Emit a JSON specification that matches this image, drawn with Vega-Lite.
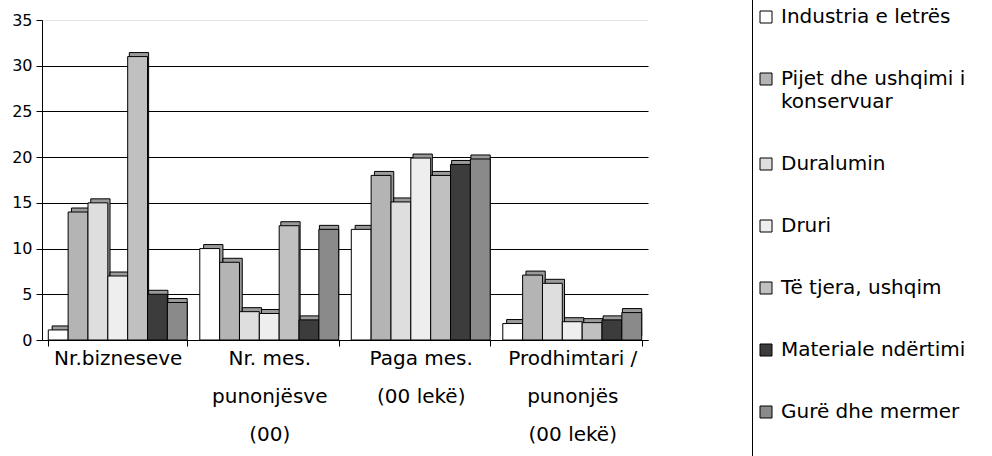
{
  "$schema": "https://vega.github.io/schema/vega-lite/v6.json",
  "width": 606,
  "height": 320,
  "autosize": {"type": "none"},
  "padding": {"left": 42, "top": 20, "right": 344, "bottom": 116},
  "background": "white",
  "config": {"view": {"stroke": null}},
  "resolve": {"scale": {"xOffset": "independent"}},
  "data": {
    "values": [
      {"group": "Nr.bizneseve", "cat": "Industria e letrës", "value": 1.1},
      {"group": "Nr.bizneseve", "cat": "Pijet dhe ushqimi i konservuar", "value": 14},
      {"group": "Nr.bizneseve", "cat": "Duralumin", "value": 15},
      {"group": "Nr.bizneseve", "cat": "Druri", "value": 7},
      {"group": "Nr.bizneseve", "cat": "Të tjera, ushqim", "value": 31},
      {"group": "Nr.bizneseve", "cat": "Materiale ndërtimi", "value": 5},
      {"group": "Nr.bizneseve", "cat": "Gurë dhe mermer", "value": 4.1},
      {"group": "Nr. mes. punonjësve (00)", "cat": "Industria e letrës", "value": 10},
      {"group": "Nr. mes. punonjësve (00)", "cat": "Pijet dhe ushqimi i konservuar", "value": 8.5},
      {"group": "Nr. mes. punonjësve (00)", "cat": "Duralumin", "value": 3.1},
      {"group": "Nr. mes. punonjësve (00)", "cat": "Druri", "value": 2.9},
      {"group": "Nr. mes. punonjësve (00)", "cat": "Të tjera, ushqim", "value": 12.5},
      {"group": "Nr. mes. punonjësve (00)", "cat": "Materiale ndërtimi", "value": 2.2},
      {"group": "Nr. mes. punonjësve (00)", "cat": "Gurë dhe mermer", "value": 12.1},
      {"group": "Paga mes. (00 lekë)", "cat": "Industria e letrës", "value": 12.1},
      {"group": "Paga mes. (00 lekë)", "cat": "Pijet dhe ushqimi i konservuar", "value": 18},
      {"group": "Paga mes. (00 lekë)", "cat": "Duralumin", "value": 15.1},
      {"group": "Paga mes. (00 lekë)", "cat": "Druri", "value": 19.9},
      {"group": "Paga mes. (00 lekë)", "cat": "Të tjera, ushqim", "value": 18},
      {"group": "Paga mes. (00 lekë)", "cat": "Materiale ndërtimi", "value": 19.2},
      {"group": "Paga mes. (00 lekë)", "cat": "Gurë dhe mermer", "value": 19.8},
      {"group": "Prodhimtari / punonjës (00 lekë)", "cat": "Industria e letrës", "value": 1.8},
      {"group": "Prodhimtari / punonjës (00 lekë)", "cat": "Pijet dhe ushqimi i konservuar", "value": 7.1},
      {"group": "Prodhimtari / punonjës (00 lekë)", "cat": "Duralumin", "value": 6.2},
      {"group": "Prodhimtari / punonjës (00 lekë)", "cat": "Druri", "value": 2},
      {"group": "Prodhimtari / punonjës (00 lekë)", "cat": "Të tjera, ushqim", "value": 1.9},
      {"group": "Prodhimtari / punonjës (00 lekë)", "cat": "Materiale ndërtimi", "value": 2.2},
      {"group": "Prodhimtari / punonjës (00 lekë)", "cat": "Gurë dhe mermer", "value": 3}
    ]
  },
  "encoding": {
    "x": {
      "field": "group",
      "type": "nominal",
      "sort": ["Nr.bizneseve", "Nr. mes. punonjësve (00)", "Paga mes. (00 lekë)", "Prodhimtari / punonjës (00 lekë)"],
      "scale": {"paddingInner": 0.083, "paddingOuter": 0.0415},
      "axis": {
        "title": null,
        "labelAngle": 0,
        "tickBand": "extent",
        "tickColor": "black",
        "tickSize": 6,
        "domainColor": "black",
        "labelFont": "DejaVu Sans",
        "labelFontSize": 20,
        "labelColor": "black",
        "labelLineHeight": 38,
        "labelBaseline": "top",
        "labelPadding": 2,
        "labelLimit": 200,
        "labelExpr": "datum.value === 'Nr. mes. punonjësve (00)' ? ['Nr. mes.', 'punonjësve', '(00)'] : datum.value === 'Paga mes. (00 lekë)' ? ['Paga mes.', '(00 lekë)'] : datum.value === 'Prodhimtari / punonjës (00 lekë)' ? ['Prodhimtari /', '\u00a0punonjës', '\u00a0\u00a0\u00a0\u00a0\u00a0\u00a0(00 lekë)'] : datum.value"
      }
    },
    "xOffset": {
      "field": "cat",
      "type": "nominal",
      "scale": {
        "domain": ["Industria e letrës", "Pijet dhe ushqimi i konservuar", "Duralumin", "Druri", "Të tjera, ushqim", "Materiale ndërtimi", "Gurë dhe mermer"],
        "paddingInner": 0,
        "paddingOuter": 0
      }
    },
    "y": {
      "field": "value",
      "type": "quantitative",
      "scale": {"domain": [0, 35], "nice": false},
      "axis": {
        "title": null,
        "values": [0, 5, 10, 15, 20, 25, 30, 35],
        "grid": true,
        "gridColor": {"condition": {"test": "datum.value === 35", "value": "#e4e4e4"}, "value": "black"},
        "gridWidth": 1,
        "domainColor": "black",
        "tickColor": "black",
        "tickSize": 6,
        "labelFont": "DejaVu Sans",
        "labelFontSize": 16,
        "labelColor": "black",
        "labelPadding": 4
      }
    }
  },
  "layer": [
    {
      "mark": {"type": "bar", "fill": "#9a9a9a", "stroke": "black", "strokeWidth": 1, "yOffset": -4, "y2Offset": -4},
      "encoding": {
        "xOffset": {
          "field": "cat",
          "type": "nominal",
          "scale": {
            "domain": ["Industria e letrës", "Pijet dhe ushqimi i konservuar", "Duralumin", "Druri", "Të tjera, ushqim", "Materiale ndërtimi", "Gurë dhe mermer"],
            "paddingInner": 0,
            "paddingOuter": 0.1,
            "align": 1
          }
        }
      }
    },
    {
      "mark": {"type": "bar", "stroke": "black", "strokeWidth": 1},
      "encoding": {
        "color": {
          "field": "cat",
          "type": "nominal",
          "scale": {
            "domain": ["Industria e letrës", "Pijet dhe ushqimi i konservuar", "Duralumin", "Druri", "Të tjera, ushqim", "Materiale ndërtimi", "Gurë dhe mermer", " "],
            "range": ["#ffffff", "#b4b4b4", "#dedede", "#eeeeee", "#c0c0c0", "#3c3c3c", "#8a8a8a", "transparent"]
          },
          "legend": {
            "orient": "none",
            "legendX": 710,
            "legendY": -30,
            "title": " ",
            "titleFontSize": 10,
            "titlePadding": 3,
            "strokeColor": "black",
            "fillColor": "white",
            "padding": 4,
            "symbolType": "square",
            "symbolSize": 144,
            "symbolStrokeColor": "black",
            "symbolStrokeWidth": 1,
            "symbolOpacity": 1,
            "labelFont": "DejaVu Sans",
            "labelFontSize": 20,
            "labelColor": "black",
            "labelLimit": 400,
            "labelOffset": 5,
            "rowPadding": 42,
            "labelExpr": "datum.value === 'Pijet dhe ushqimi i konservuar' ? ['Pijet dhe ushqimi i', 'konservuar'] : datum.value === ' ' ? '' : datum.value",
            "encode": {
              "labels": {"update": {"baseline": {"value": "top"}, "dy": {"value": -10}, "lineHeight": {"value": 23}}},
              "symbols": {"update": {
                "stroke": {"signal": "datum.value === ' ' ? 'transparent' : 'black'"},
                "shape": {"signal": "datum.value === ' ' ? 'M0,0H50' : 'square'"}
              }}
            }
          }
        }
      }
    }
  ]
}
